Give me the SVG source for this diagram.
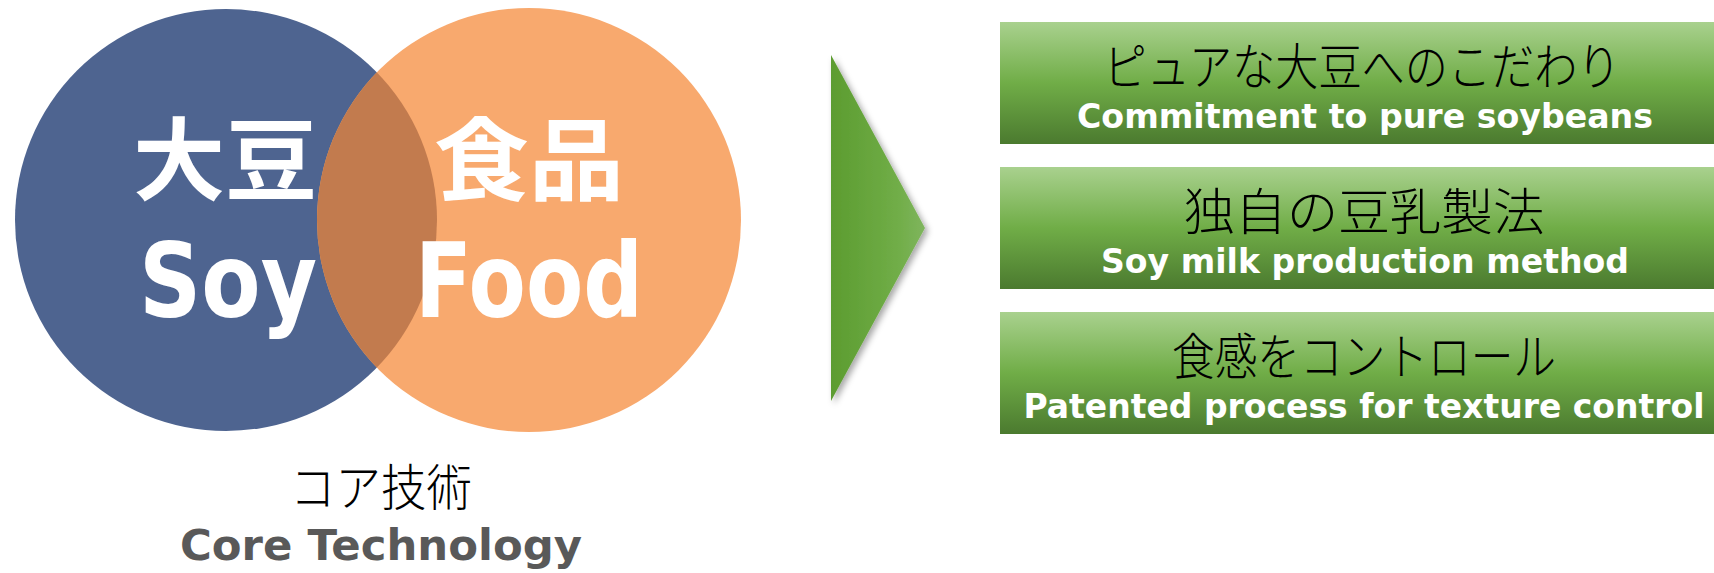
<svg xmlns="http://www.w3.org/2000/svg" width="1714" height="573" viewBox="0 0 1714 573">
<style>
.jp{font-family:"Noto Sans CJK JP","Noto Sans",sans-serif;font-weight:300;fill:#000;text-anchor:middle}
.en{font-family:"DejaVu Sans","Liberation Sans",sans-serif;font-weight:bold;fill:#fff;text-anchor:middle}
.big{font-family:"DejaVu Sans","Liberation Sans",sans-serif;font-weight:bold;fill:#fff;text-anchor:middle}
.bigjp{font-family:"Noto Sans CJK JP",sans-serif;font-weight:bold;fill:#fff;text-anchor:middle}
.box{fill:url(#boxg)}
</style>
<defs>
<linearGradient id="boxg" x1="0" y1="0" x2="0" y2="1">
<stop offset="0" stop-color="#A9D18E"/>
<stop offset="0.5" stop-color="#70AD47"/>
<stop offset="1" stop-color="#4B7A2F"/>
</linearGradient>
<linearGradient id="arrg" x1="0" y1="0" x2="1" y2="0">
<stop offset="0" stop-color="#5C9C30"/>
<stop offset="0.7" stop-color="#70AD47"/>
<stop offset="1" stop-color="#7FB55E"/>
</linearGradient>
<filter id="sh" x="-20%" y="-10%" width="150%" height="130%">
<feDropShadow dx="3" dy="3" stdDeviation="3" flood-color="#000" flood-opacity="0.35"/>
</filter>
<clipPath id="blueclip"><circle cx="226" cy="220" r="211"/></clipPath>
</defs>
<g id="venn">
<circle id="soy" cx="226" cy="220" r="211" fill="#4E6490"/>
<circle id="food" cx="529" cy="220" r="212" fill="#F8A96E"/>
<circle cx="529" cy="220" r="212" fill="#C27B4E" clip-path="url(#blueclip)"/>
<text class="bigjp" x="225" y="193" font-size="90" textLength="184" lengthAdjust="spacingAndGlyphs">大豆</text>
<text class="big" x="228" y="317" font-size="104" textLength="178" lengthAdjust="spacingAndGlyphs">Soy</text>
<text class="bigjp" x="529" y="193" font-size="90" textLength="190" lengthAdjust="spacingAndGlyphs">食品</text>
<text class="big" x="529" y="317" font-size="104" textLength="228" lengthAdjust="spacingAndGlyphs">Food</text>
</g>
<g id="core">
<text class="jp" x="381" y="506" font-size="50" textLength="182" lengthAdjust="spacingAndGlyphs">コア技術</text>
<text class="en" x="381" y="560" font-size="42" style="fill:#595959" textLength="402" lengthAdjust="spacingAndGlyphs">Core Technology</text>
</g>
<g id="connectors">
<polygon points="831,55 925,228 831,401" fill="url(#arrg)" filter="url(#sh)"/>
</g>
<g id="box1">
<rect class="box" x="1000" y="22" width="714" height="122"/>
<text class="jp" x="1362" y="85" font-size="50" textLength="517" lengthAdjust="spacingAndGlyphs">ピュアな大豆へのこだわり</text>
<text class="en" x="1365" y="128" font-size="33" textLength="576" lengthAdjust="spacingAndGlyphs">Commitment to pure soybeans</text>
</g>
<g id="box2">
<rect class="box" x="1000" y="167" width="714" height="122"/>
<text class="jp" x="1364" y="230" font-size="50" textLength="361" lengthAdjust="spacingAndGlyphs">独自の豆乳製法</text>
<text class="en" x="1365" y="273" font-size="33" textLength="528" lengthAdjust="spacingAndGlyphs">Soy milk production method</text>
</g>
<g id="box3">
<rect class="box" x="1000" y="312" width="714" height="122"/>
<text class="jp" x="1364" y="375" font-size="50" textLength="384" lengthAdjust="spacingAndGlyphs">食感をコントロール</text>
<text class="en" x="1364" y="418" font-size="33" textLength="681" lengthAdjust="spacingAndGlyphs">Patented process for texture control</text>
</g>
</svg>
